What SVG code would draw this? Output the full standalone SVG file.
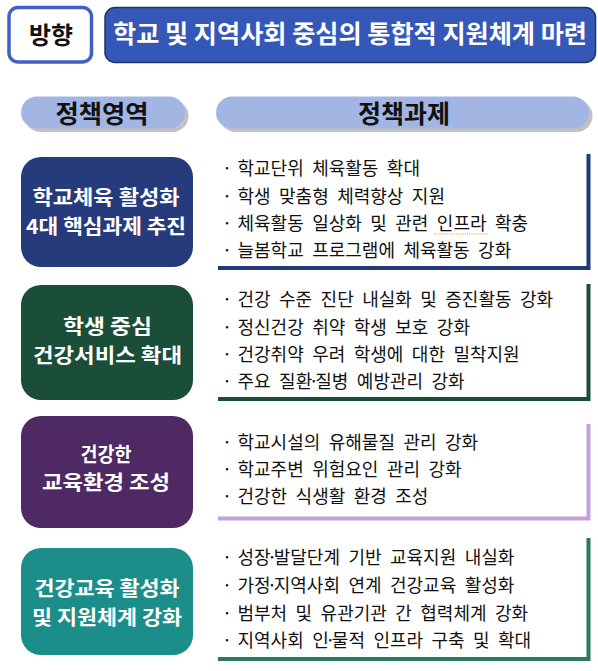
<svg xmlns="http://www.w3.org/2000/svg" width="598" height="671" viewBox="0 0 598 671">
<style>
  .hd { font-family: "Noto Sans CJK KR", "Noto Sans", sans-serif; font-weight: 700; }
  .bx { font-family: "Noto Sans CJK KR", "Noto Sans", sans-serif; font-weight: 700; font-size: 20px; fill: #ffffff; text-anchor: middle; }
  .it { font-family: "Noto Sans CJK KR", "Noto Sans", sans-serif; font-weight: 400; font-size: 18px; fill: #111111; word-spacing: 4.4px; }
  .tight { letter-spacing: -3.5px; }
  .pill { fill: #a3b5e3; }
  .shadow { fill: #c2c2c2; }
  .frame { fill: none; stroke-width: 4; stroke-linejoin: miter; stroke-linecap: butt; }
</style>
<rect width="598" height="671" fill="#ffffff"/>

<g id="direction-label">
  <rect x="9" y="7.5" width="82.5" height="54.5" rx="9" fill="#ffffff" stroke="#3d62c4" stroke-width="3.5"/>
  <text class="hd" x="51" y="44" font-size="24" fill="#111111" text-anchor="middle" textLength="44" lengthAdjust="spacingAndGlyphs">방향</text>
</g>

<g id="direction-title">
  <rect x="105" y="7.5" width="490.5" height="55" rx="10" fill="#3457b8" stroke="#1f3760" stroke-width="1.5"/>
  <text class="hd" x="350" y="43" font-size="24.5" fill="#ffffff" text-anchor="middle" textLength="474" lengthAdjust="spacingAndGlyphs">학교 및 지역사회 중심의 통합적 지원체계 마련</text>
</g>

<g id="header-area">
  <rect class="shadow" x="24.5" y="100" width="164" height="32" rx="16"/>
  <rect class="pill" x="21" y="96.5" width="164" height="32" rx="16"/>
  <text class="hd" x="102" y="123" font-size="24.5" fill="#111111" text-anchor="middle" textLength="93" lengthAdjust="spacingAndGlyphs">정책영역</text>
</g>

<g id="header-task">
  <rect class="shadow" x="219.5" y="100" width="373" height="32" rx="16"/>
  <rect class="pill" x="216" y="96.5" width="373" height="32" rx="16"/>
  <text class="hd" x="404" y="123" font-size="24.5" fill="#111111" text-anchor="middle" textLength="92" lengthAdjust="spacingAndGlyphs">정책과제</text>
</g>

<g id="area-1">
  <rect x="21" y="157" width="172" height="110" rx="20" fill="#253b7b"/>
  <text class="bx"><tspan x="106" y="205" textLength="147" lengthAdjust="spacingAndGlyphs">학교체육 활성화</tspan><tspan x="106" y="234" textLength="160" lengthAdjust="spacingAndGlyphs">4대 핵심과제 추진</tspan></text>
</g>
<g id="tasks-1">
  <path class="frame" stroke="#213977" d="M218 268 H588.5 V154"/>
  <text class="it" y="175"><tspan x="222">·</tspan><tspan x="237.5">학교단위 체육활동 확대</tspan></text>
  <text class="it" y="202.5"><tspan x="222">·</tspan><tspan x="237.5">학생 맞춤형 체력향상 지원</tspan></text>
  <text class="it" y="230"><tspan x="222">·</tspan><tspan x="237.5">체육활동 일상화 및 관련 인프라 확충</tspan></text>
  <path d="M434 234 H489" stroke="#d89a3c" stroke-width="1.2" stroke-dasharray="1 1.2" fill="none"/>
  <text class="it" y="257"><tspan x="222">·</tspan><tspan x="237.5">늘봄학교 프로그램에 체육활동 강화</tspan></text>
</g>

<g id="area-2">
  <rect x="21" y="285" width="172" height="115" rx="20" fill="#1a4e39"/>
  <text class="bx"><tspan x="107.5" y="334" textLength="89" lengthAdjust="spacingAndGlyphs">학생 중심</tspan><tspan x="107.5" y="363" textLength="149" lengthAdjust="spacingAndGlyphs">건강서비스 확대</tspan></text>
</g>
<g id="tasks-2">
  <path class="frame" stroke="#1a4e39" d="M218 399 H588.5 V284"/>
  <text class="it" y="306"><tspan x="222">·</tspan><tspan x="237.5">건강 수준 진단 내실화 및 증진활동 강화</tspan></text>
  <text class="it" y="333.5"><tspan x="222">·</tspan><tspan x="237.5">정신건강 취약 학생 보호 강화</tspan></text>
  <text class="it" y="361"><tspan x="222">·</tspan><tspan x="237.5">건강취약 우려 학생에 대한 밀착지원</tspan></text>
  <text class="it" y="388"><tspan x="222">·</tspan><tspan x="237.5">주요 질<tspan class="tight">환·</tspan>질병 예방관리 강화</tspan></text>
</g>

<g id="area-3">
  <rect x="21" y="416" width="172" height="112" rx="20" fill="#4f2963"/>
  <text class="bx"><tspan x="106" y="462" textLength="51" lengthAdjust="spacingAndGlyphs">건강한</tspan><tspan x="106" y="490" textLength="128" lengthAdjust="spacingAndGlyphs">교육환경 조성</tspan></text>
</g>
<g id="tasks-3">
  <path class="frame" stroke="#c3a0d8" d="M218 518.5 H588.5 V424"/>
  <text class="it" y="449"><tspan x="222">·</tspan><tspan x="237.5">학교시설의 유해물질 관리 강화</tspan></text>
  <text class="it" y="476"><tspan x="222">·</tspan><tspan x="237.5">학교주변 위험요인 관리 강화</tspan></text>
  <text class="it" y="503"><tspan x="222">·</tspan><tspan x="237.5">건강한 식생활 환경 조성</tspan></text>
</g>

<g id="area-4">
  <rect x="21" y="548" width="172" height="107" rx="20" fill="#1b8e8a"/>
  <text class="bx"><tspan x="107" y="596" textLength="145" lengthAdjust="spacingAndGlyphs">건강교육 활성화</tspan><tspan x="107" y="625" textLength="150" lengthAdjust="spacingAndGlyphs">및 지원체계 강화</tspan></text>
</g>
<g id="tasks-4">
  <path class="frame" stroke="#2b7b5a" d="M218 659 H588.5 V538"/>
  <text class="it" y="564"><tspan x="222">·</tspan><tspan x="237.5">성<tspan class="tight">장·</tspan>발달단계 기반 교육지원 내실화</tspan></text>
  <text class="it" y="592"><tspan x="222">·</tspan><tspan x="237.5">가<tspan class="tight">정·</tspan>지역사회 연계 건강교육 활성화</tspan></text>
  <text class="it" y="620"><tspan x="222">·</tspan><tspan x="237.5">범부처 및 유관기관 간 협력체계 강화</tspan></text>
  <text class="it" y="647"><tspan x="222">·</tspan><tspan x="237.5">지역사회 <tspan class="tight">인·</tspan>물적 인프라 구축 및 확대</tspan></text>
</g>

<g id="connectors"/>
</svg>
